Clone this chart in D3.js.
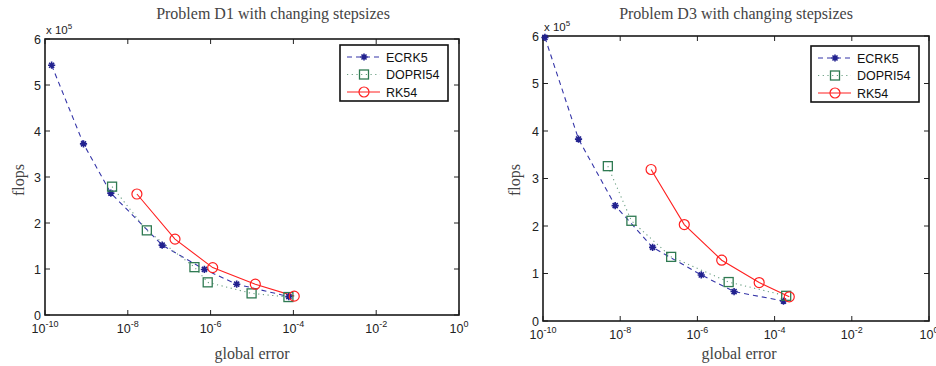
<!DOCTYPE html>
<html><head><meta charset="utf-8">
<script src="https://cdn.jsdelivr.net/npm/d3@7"></script>
<style>body{margin:0;background:#fff}svg{display:block}</style>
</head><body>
<svg id="c" width="936" height="366"></svg>
<script>
// Data: global error (log10) and flops (x 10^5)
const seriesNames = ["ECRK5", "DOPRI54", "RK54"];
const xTickExps = [-10, -8, -6, -4, -2, 0];
const yTicks = [0, 1, 2, 3, 4, 5, 6];

// Problem D1
const d1_ecrk5_err = [-9.84, -9.07, -8.41, -7.17, -6.15, -5.37, -4.11];
const d1_ecrk5_flops = [5.43, 3.72, 2.65, 1.52, 0.99, 0.67, 0.40];
const d1_dopri_err = [-8.38, -7.54, -6.39, -6.07, -5.01, -4.12];
const d1_dopri_flops = [2.79, 1.84, 1.04, 0.71, 0.47, 0.39];
const d1_rk54_err = [-7.78, -6.86, -5.95, -4.92, -3.98];
const d1_rk54_flops = [2.63, 1.65, 1.03, 0.67, 0.41];

// Problem D3
const d3_ecrk5_err = [-9.95, -9.08, -8.13, -7.16, -5.90, -5.05, -3.77];
const d3_ecrk5_flops = [5.97, 3.83, 2.43, 1.55, 0.97, 0.62, 0.42];
const d3_dopri_err = [-8.32, -7.71, -6.68, -5.19, -3.70];
const d3_dopri_flops = [3.26, 2.11, 1.35, 0.82, 0.53];
const d3_rk54_err = [-7.20, -6.34, -5.37, -4.40, -3.62];
const d3_rk54_flops = [3.19, 2.03, 1.28, 0.81, 0.51];

const svg = d3.select("#c");
const colors = {ECRK5: "#22228f", DOPRI54: "#2f7a52", RK54: "#ff2020"};
const lineColors = {ECRK5: "#3535a8", DOPRI54: "#6a9f82", RK54: "#ff2020"};
const dash = {ECRK5: "5,4", DOPRI54: "1.2,3.5", RK54: null};

function star(g, x, y) {
  const r = 3.6;
  g.append("path")
    .attr("d", `M${x-r},${y}L${x+r},${y}M${x},${y-r}L${x},${y+r}M${x-r*0.7},${y-r*0.7}L${x+r*0.7},${y+r*0.7}M${x-r*0.7},${y+r*0.7}L${x+r*0.7},${y-r*0.7}`)
    .attr("stroke", colors.ECRK5).attr("stroke-width", 1.6).attr("fill", "none");
}
function marker(g, name, x, y) {
  if (name === "ECRK5") star(g, x, y);
  else if (name === "DOPRI54") g.append("rect").attr("x", x-4.5).attr("y", y-4.5).attr("width", 9).attr("height", 9)
      .attr("fill", "none").attr("stroke", colors.DOPRI54).attr("stroke-width", 1.3);
  else g.append("circle").attr("cx", x).attr("cy", y).attr("r", 5).attr("fill", "none")
      .attr("stroke", colors.RK54).attr("stroke-width", 1.2);
}

function panel(cfg) {
  const x = d3.scaleLinear().domain([-10, 0]).range([cfg.x0, cfg.x1]);
  const y = d3.scaleLinear().domain([0, 6]).range([cfg.y1, cfg.y0]);
  const g = svg.append("g");

  // ticks (inside, all four sides)
  const tl = 5;
  xTickExps.forEach(e => {
    const px = x(e);
    g.append("line").attr("x1", px).attr("x2", px).attr("y1", cfg.y1).attr("y2", cfg.y1 - tl).attr("stroke", "#222").attr("stroke-width", 1);
    g.append("line").attr("x1", px).attr("x2", px).attr("y1", cfg.y0).attr("y2", cfg.y0 + tl).attr("stroke", "#222").attr("stroke-width", 1);
    const t = g.append("text").attr("x", px).attr("y", cfg.xlabY).attr("text-anchor", "middle")
      .attr("font-family", "Liberation Sans, Arial, sans-serif").attr("font-size", 12.5).attr("fill", "#222");
    t.append("tspan").text("10");
    t.append("tspan").attr("dy", -6).attr("font-size", 9).text(String(e).replace("-", "-"));
  });
  yTicks.forEach(v => {
    const py = y(v);
    g.append("line").attr("x1", cfg.x0).attr("x2", cfg.x0 + tl).attr("y1", py).attr("y2", py).attr("stroke", "#222");
    g.append("line").attr("x1", cfg.x1).attr("x2", cfg.x1 - tl).attr("y1", py).attr("y2", py).attr("stroke", "#222");
    g.append("text").attr("x", cfg.x0 - 4).attr("y", py + 4.5).attr("text-anchor", "end")
      .attr("font-family", "Liberation Sans, Arial, sans-serif").attr("font-size", 12.5).attr("fill", "#222").text(v);
  });
  g.append("rect").attr("x", cfg.x0).attr("y", cfg.y0).attr("width", cfg.x1 - cfg.x0).attr("height", cfg.y1 - cfg.y0)
    .attr("fill", "none").attr("stroke", "#1a1a1a").attr("stroke-width", 1.6);

  // exponent label
  const ex = g.append("text").attr("x", cfg.x0 + 1).attr("y", cfg.y0 - 5)
    .attr("font-family", "Liberation Sans, Arial, sans-serif").attr("font-size", 11.5).attr("fill", "#222");
  ex.append("tspan").text("x 10");
  ex.append("tspan").attr("dy", -5).attr("font-size", 8).text("5");

  // title & labels
  g.append("text").attr("x", cfg.titleX).attr("y", 19).attr("text-anchor", "middle")
    .attr("font-family", "Liberation Serif, DejaVu Serif, serif").attr("font-size", 16).attr("fill", "#444").text(cfg.title);
  g.append("text").attr("x", cfg.xlabelX).attr("y", 359).attr("text-anchor", "middle")
    .attr("font-family", "Liberation Serif, DejaVu Serif, serif").attr("font-size", 16).attr("fill", "#444").text("global error");
  g.append("text").attr("transform", `translate(${cfg.ylabelX},${cfg.ylabelY}) rotate(-90)`).attr("text-anchor", "middle")
    .attr("font-family", "Liberation Serif, DejaVu Serif, serif").attr("font-size", 16).attr("fill", "#444").text("flops");

  // series
  const line = d3.line().x(d => x(d[0])).y(d => y(d[1]));
  cfg.series.forEach(s => {
    const pts = d3.zip(s.err, s.flops);
    g.append("path").datum(pts).attr("d", line).attr("fill", "none").attr("stroke", lineColors[s.name])
      .attr("stroke-width", 1.1).attr("stroke-dasharray", dash[s.name]);
  });
  cfg.series.forEach(s => {
    d3.zip(s.err, s.flops).forEach(d => marker(g, s.name, x(d[0]), y(d[1])));
  });

  // legend
  const L = cfg.legend;
  g.append("rect").attr("x", L.x).attr("y", L.y).attr("width", L.w).attr("height", L.h)
    .attr("fill", "#fff").attr("stroke", "#111").attr("stroke-width", 1.6);
  seriesNames.forEach((n, i) => {
    const ry = L.y + 12 + i * 17.5;
    g.append("line").attr("x1", L.x + 7).attr("x2", L.x + 40).attr("y1", ry).attr("y2", ry)
      .attr("stroke", lineColors[n]).attr("stroke-width", 1.1).attr("stroke-dasharray", dash[n]);
    marker(g, n, L.x + 24, ry);
    g.append("text").attr("x", L.x + 46).attr("y", ry + 4.5)
      .attr("font-family", "Liberation Sans, Arial, sans-serif").attr("font-size", 12.5).attr("fill", "#111").text(n);
  });
}

panel({
  x0: 45, x1: 459, y0: 39, y1: 315, xlabY: 333, title: "Problem D1 with changing stepsizes",
  titleX: 273, xlabelX: 252, ylabelX: 24, ylabelY: 180,
  legend: {x: 340, y: 45, w: 108, h: 56},
  series: [
    {name: "ECRK5", err: d1_ecrk5_err, flops: d1_ecrk5_flops},
    {name: "DOPRI54", err: d1_dopri_err, flops: d1_dopri_flops},
    {name: "RK54", err: d1_rk54_err, flops: d1_rk54_flops}
  ]
});
panel({
  x0: 543, x1: 929, y0: 36, y1: 321, xlabY: 339, title: "Problem D3 with changing stepsizes",
  titleX: 736, xlabelX: 739, ylabelX: 520, ylabelY: 180,
  legend: {x: 811, y: 46, w: 108, h: 56},
  series: [
    {name: "ECRK5", err: d3_ecrk5_err, flops: d3_ecrk5_flops},
    {name: "DOPRI54", err: d3_dopri_err, flops: d3_dopri_flops},
    {name: "RK54", err: d3_rk54_err, flops: d3_rk54_flops}
  ]
});
</script>
</body></html>
